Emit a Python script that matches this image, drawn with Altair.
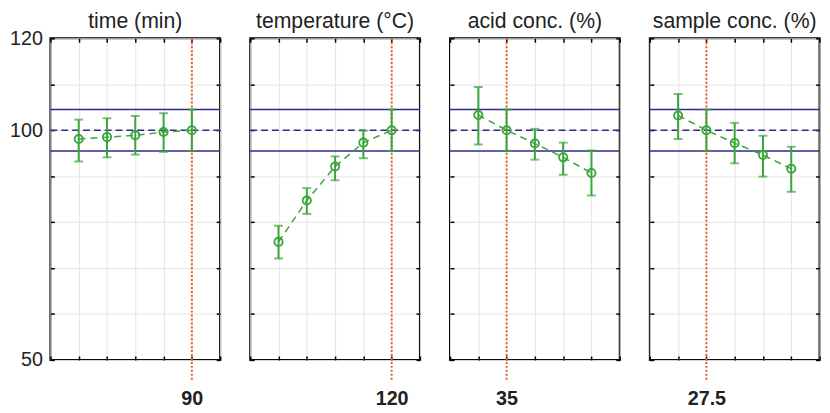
import altair as alt
import pandas as pd

# ---------------- data ----------------
titles = ["time (min)", "temperature (°C)", "acid conc. (%)", "sample conc. (%)"]

x_time = [30, 45, 60, 75, 90]
y_time = [98.1, 98.5, 98.9, 99.6, 100.0]
lo_time = [93.2, 94.1, 94.7, 95.3, 95.5]
hi_time = [102.3, 102.6, 103.1, 103.7, 104.5]

x_temp = [80, 90, 100, 110, 120]
y_temp = [75.7, 84.7, 92.1, 97.3, 100.0]
lo_temp = [72.1, 81.8, 89.1, 93.9, 95.5]
hi_temp = [79.2, 87.4, 94.3, 99.9, 104.5]

x_acid = [30, 35, 40, 45, 50]
y_acid = [103.3, 100.0, 97.1, 94.1, 90.7]
lo_acid = [96.9, 95.5, 93.6, 90.3, 85.8]
hi_acid = [109.4, 104.5, 100.3, 97.3, 95.6]

x_samp = [25, 27.5, 30, 32.5, 35]
y_samp = [103.2, 100.0, 97.2, 94.6, 91.6]
lo_samp = [98.1, 95.5, 92.8, 89.9, 86.6]
hi_samp = [107.9, 104.5, 101.6, 98.8, 96.4]

x_ticks = [
    [15, 30, 45, 60, 75, 90, 105],
    [70, 80, 90, 100, 110, 120, 130],
    [25, 30, 35, 40, 45, 50, 55],
    [22.5, 25, 27.5, 30, 32.5, 35, 37.5],
]
opt_values = [90, 120, 35, 27.5]
opt_labels = ["90", "120", "35", "27.5"]

y_ticks = [50, 60, 70, 80, 90, 100, 110, 120]
y_labels_shown = [50, 100, 120]
band_values = [95.5, 104.5]
center_value = [100]

series = [
    (x_time, y_time, lo_time, hi_time),
    (x_temp, y_temp, lo_temp, hi_temp),
    (x_acid, y_acid, lo_acid, hi_acid),
    (x_samp, y_samp, lo_samp, hi_samp),
]

# ---------------- style ----------------
W, H = 172, 326
GREEN = "#3aa53a"
BLUE = "#2f2a8c"
RED = "#f05a28"
GRID = "#e4e4e4"
TXT = "#222222"
FONT = "Liberation Sans"


def panel(i):
    xs, ys, los, his = series[i]
    df = pd.DataFrame({"x": xs, "y": ys, "lo": los, "hi": his})
    ticks = x_ticks[i]
    opt = opt_values[i]
    xscale = alt.Scale(domain=[ticks[0], ticks[-1]], nice=False, zero=False)
    yscale = alt.Scale(domain=[50, 120], nice=False, zero=False)

    xaxis_bottom = alt.Axis(
        values=ticks, grid=True, gridColor=GRID, gridWidth=1, domain=False,
        ticks=True, tickSize=4, tickWidth=1.5, tickColor="black", offset=-4,
        labelExpr=f"datum.value == {opt} ? '{opt_labels[i]}' : ''",
        labelFontWeight="bold", labelFontSize=20, labelFont=FONT,
        labelColor=TXT, labelPadding=29, labelOverlap=False, labelFlush=False,
        title=None,
    )
    if i == 0:
        cond = " || ".join(f"datum.value == {v}" for v in y_labels_shown)
        yaxis_left = alt.Axis(
            values=y_ticks, grid=True, gridColor=GRID, gridWidth=1, domain=False,
            ticks=True, tickSize=4, tickWidth=1.5, tickColor="black", offset=-4,
            labelExpr=f"({cond}) ? datum.label : ''", labelFontSize=20,
            labelFont=FONT, labelColor=TXT, labelPadding=8, labelOverlap=False,
            title=None,
        )
    else:
        yaxis_left = alt.Axis(
            values=y_ticks, grid=True, gridColor=GRID, gridWidth=1, domain=False,
            ticks=True, tickSize=4, tickWidth=1.5, tickColor="black", offset=-4,
            labels=False, title=None,
        )
    xaxis_top = alt.Axis(
        orient="top", values=ticks, grid=False, domain=False, ticks=True,
        tickSize=4, tickWidth=1.5, tickColor="black", offset=-4, labels=False,
        title=None,
    )
    yaxis_right = alt.Axis(
        orient="right", values=y_ticks, grid=False, domain=False, ticks=True,
        tickSize=4, tickWidth=1.5, tickColor="black", offset=-4, labels=False,
        title=None,
    )

    base = alt.Chart(df)

    frame_a = base.mark_point(opacity=0).encode(
        x=alt.X("x:Q", scale=xscale, axis=xaxis_bottom),
        y=alt.Y("y:Q", scale=yscale, axis=yaxis_left),
    )
    frame_b = base.mark_point(opacity=0).encode(
        x=alt.X("x:Q", scale=xscale, axis=xaxis_top),
        y=alt.Y("y:Q", scale=yscale, axis=yaxis_right),
    )

    band = alt.Chart(pd.DataFrame({"v": band_values})).mark_rule(
        color=BLUE, strokeWidth=1.5
    ).encode(y=alt.Y("v:Q", scale=yscale, axis=None))
    center = alt.Chart(pd.DataFrame({"v": center_value})).mark_rule(
        color=BLUE, strokeWidth=1.5, strokeDash=[7, 4]
    ).encode(y=alt.Y("v:Q", scale=yscale, axis=None))

    red = alt.Chart(pd.DataFrame({"o": [opt]})).mark_rule(
        color=RED, strokeWidth=2, strokeDash=[2, 2]
    ).encode(
        x=alt.X("o:Q", scale=xscale, axis=None),
        y=alt.value(0), y2=alt.value(H + 22),
    )

    xenc = alt.X("x:Q", scale=xscale, axis=None)
    line = base.mark_line(color=GREEN, strokeWidth=1.5, strokeDash=[7, 5]).encode(
        x=xenc, y=alt.Y("y:Q", scale=yscale, axis=None)
    )
    err = base.mark_rule(color=GREEN, strokeWidth=2).encode(
        x=xenc, y=alt.Y("lo:Q", scale=yscale, axis=None), y2="hi:Q"
    )
    cap_lo = base.mark_tick(orient="horizontal", size=9, thickness=2, color=GREEN).encode(
        x=xenc, y=alt.Y("lo:Q", scale=yscale, axis=None)
    )
    cap_hi = base.mark_tick(orient="horizontal", size=9, thickness=2, color=GREEN).encode(
        x=xenc, y=alt.Y("hi:Q", scale=yscale, axis=None)
    )
    pts = base.mark_point(shape="circle", size=70, filled=False, strokeWidth=1.8,
                          color=GREEN, opacity=1).encode(
        x=xenc, y=alt.Y("y:Q", scale=yscale, axis=None)
    )

    title = alt.Chart(pd.DataFrame({"t": [titles[i]]})).mark_text(
        fontSize=21.5, font=FONT, color=TXT, align="center", baseline="alphabetic"
    ).encode(text="t:N", x=alt.value(W / 2), y=alt.value(-10))

    return alt.layer(
        frame_a, frame_b, band, center, red, line, err, cap_lo, cap_hi, pts, title
    ).resolve_axis(x="independent", y="independent").properties(width=W, height=H)


chart = alt.hconcat(*[panel(i) for i in range(4)], spacing=30.5, bounds="flush").properties(
    padding={"left": 0, "top": 0, "right": 0, "bottom": 0}
).configure(background="white").configure_view(stroke="black", strokeWidth=2)

chart.save("out.html", embed_options={"renderer": "svg", "actions": False})
